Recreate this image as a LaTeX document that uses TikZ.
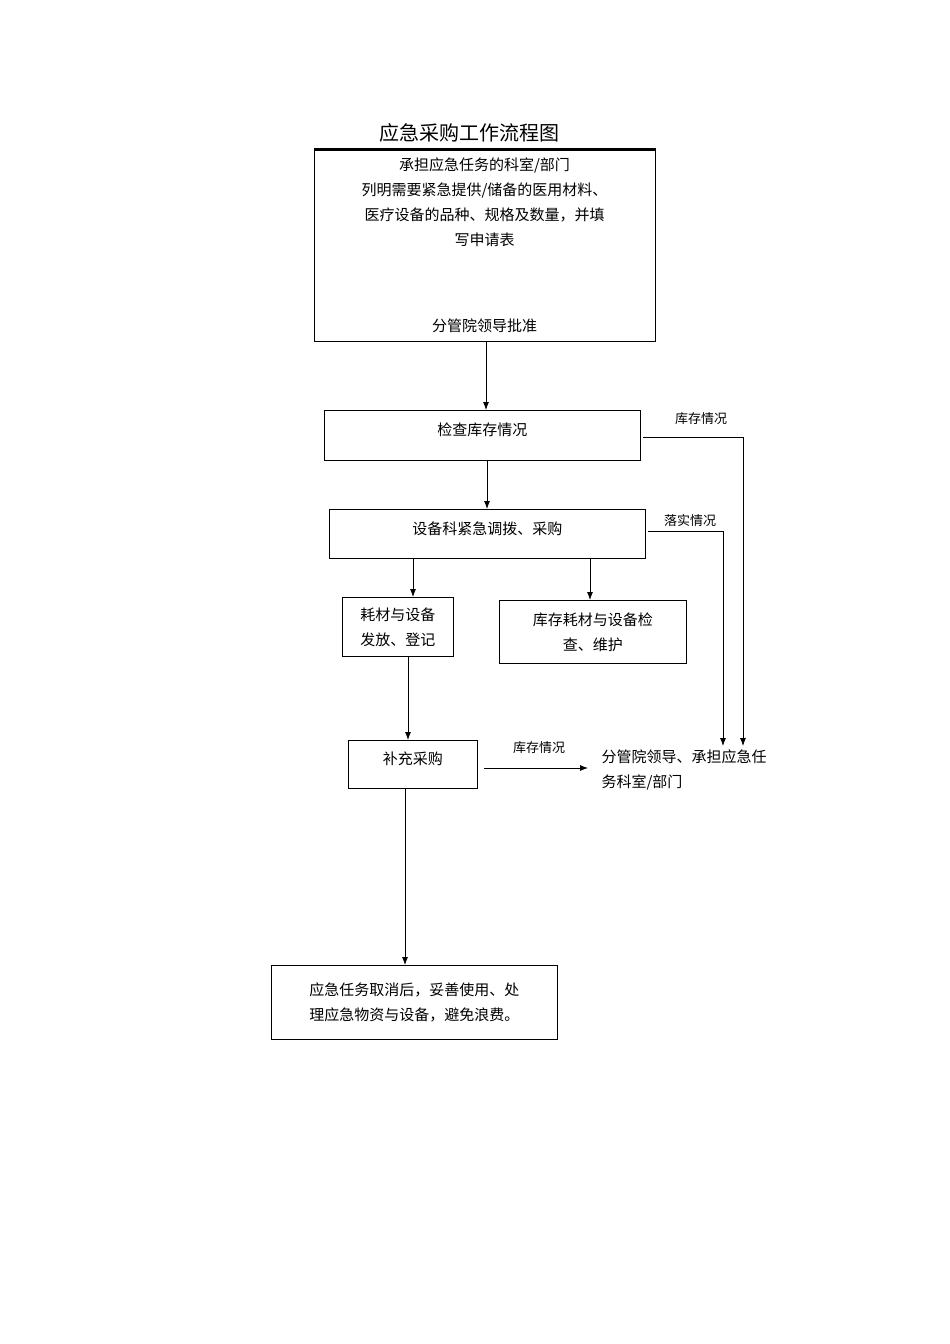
\documentclass[tikz,border=0pt]{standalone}
\usepackage{fontspec}
\newfontfamily\cjk{Noto Sans CJK SC}
\usetikzlibrary{arrows.meta}
\begin{document}
\begin{tikzpicture}[x=1pt,y=-1pt,
  bx/.style={draw,thick,fill=white},
  t/.style={font=\cjk\fontsize{15}{25}\selectfont,align=center},
  lb/.style={font=\cjk\fontsize{13}{16}\selectfont},
  ar/.style={thick,-{Latex[length=8pt,width=6pt]}}]
\useasboundingbox (0,0) rectangle (950,1344);
\node[font=\cjk\fontsize{20}{24}\selectfont] (title) at (469,133) {应急采购工作流程图};
\draw[bx] (314,148) rectangle (655,341);
\draw[very thick] (314,150) -- (655,150);
\node (top) at (484.5,244.5) [minimum width=341pt,minimum height=193pt] {};
\node[t] (toptext) at (484.5,202) {承担应急任务的科室/部门\\列明需要紧急提供/储备的医用材料、\\医疗设备的品种、规格及数量，并填\\写申请表};
\node[t] (appr) at (484.5,326) {分管院领导批准};
\node[bx,t,minimum width=316pt,minimum height=50pt,anchor=north west,text depth=12pt] (check) at (324,410) {检查库存情况};
\node[bx,t,minimum width=316pt,minimum height=49pt,anchor=north west,text depth=12pt] (equip) at (329,509) {设备科紧急调拨、采购};
\node[bx,t,minimum width=111pt,minimum height=59pt,anchor=north west] (cons) at (342,597) {耗材与设备\\发放、登记};
\node[bx,t,minimum width=187pt,minimum height=63pt,anchor=north west] (stock) at (499,600) {库存耗材与设备检\\查、维护};
\node[bx,t,minimum width=129pt,minimum height=48pt,anchor=north west,text depth=12pt] (supp) at (348,740) {补充采购};
\node[bx,t,minimum width=286pt,minimum height=74pt,anchor=north west] (final) at (271,965) {应急任务取消后，妥善使用、处\\理应急物资与设备，避免浪费。};
\node[t,align=left,anchor=north west] (target) at (598,746) {分管院领导、承担应急任\\务科室/部门};
\coordinate (tA) at (743,746);
\coordinate (tB) at (723,746);
\coordinate (tC) at (588,768);
\draw[ar] (486,341) -- (check.north -| 486,0);
\draw[ar] (487,460) -- (487,509);
\draw[ar] (413,558) -- (413,597);
\draw[ar] (590,558) -- (590,600);
\draw[ar] (408,656) -- (408,740);
\draw[ar] (405,788) -- (405,965);
\draw[ar] (643,437) -- (743,437) -- (tA);
\draw[ar] (648,531) -- (723,531) -- (tB);
\draw[ar] (484,768) -- (tC);
\node[lb] (l1) at (701,419) {库存情况};
\node[lb] (l2) at (690,521) {落实情况};
\node[lb] (l3) at (539,748) {库存情况};
\end{tikzpicture}
\end{document}
